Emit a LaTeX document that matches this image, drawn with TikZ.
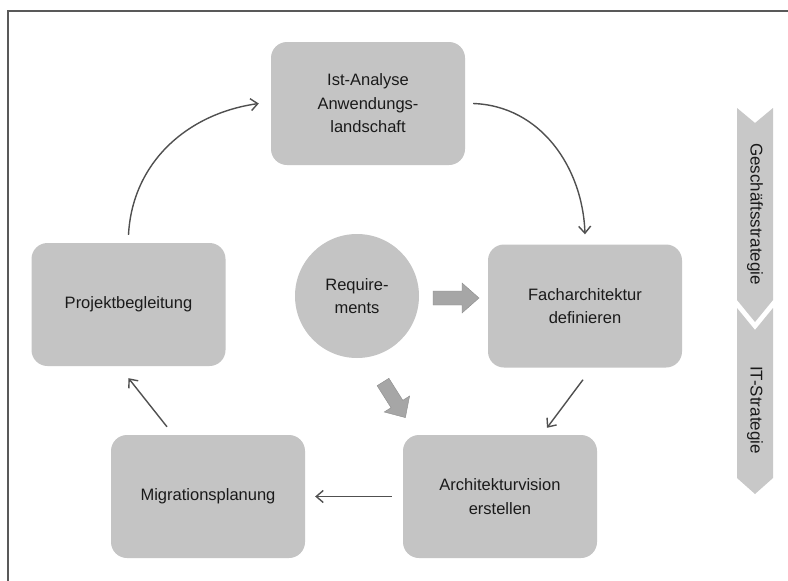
\documentclass[tikz,border=0pt]{standalone}
\usepackage{fontspec}
\setmainfont{Liberation Sans}
\usetikzlibrary{arrows.meta,calc}
\definecolor{boxgray}{HTML}{C4C4C4}
\definecolor{arrgray}{HTML}{A6A6A6}
\definecolor{stripgray}{HTML}{C8C8C8}
\definecolor{linegray}{HTML}{505050}
\definecolor{txt}{HTML}{1A1A1A}
\tikzset{
  stepbox/.style={draw=none, fill=boxgray, rounded corners=16pt, minimum width=194pt, minimum height=123pt, inner sep=0pt, align=center, text=txt, font=\fontsize{16.5}{23.5}\selectfont},
  conn/.style={draw=linegray, line width=1.4pt, -{Straight Barb[length=7pt,width=12pt,line width=1.4pt]}},
  blockarr/.style={fill=arrgray, draw=arrgray!85!black, line width=0.4pt},
}
\begin{document}
\begin{tikzpicture}[x=1pt,y=-1pt]
\useasboundingbox (0,0) rectangle (788,581);
\fill[white] (0,0) rectangle (788,581);
\draw[line width=1.2pt, black!65] (8,581) -- (8,11) -- (788,11);

\node[stepbox] (ia) at (368,103.5) {Ist-Analyse\\Anwendungs-\\landschaft};
\node[stepbox] (pb) at (128.5,304.5) {Projektbegleitung};
\node[stepbox] (fa) at (585,306) {Facharchitektur\\definieren};
\node[stepbox] (mig) at (208,496.5) {Migrationsplanung};
\node[stepbox] (av) at (500,496.5) {Architekturvision\\erstellen};
\node[circle, fill=boxgray, minimum size=124pt, inner sep=0pt, align=center, text=txt, font=\fontsize{16.5}{23.5}\selectfont] (req) at (357,296) {Require-\\ments};

% connectors
\draw[conn] ([yshift=8pt]pb.north) to[out=87,in=188] ([xshift=-12pt,yshift=0pt]ia.west);
\draw[conn] ([xshift=8pt]ia.east) to[out=-2,in=92] ([yshift=10pt]fa.north);
\draw[conn] ($(fa.south)+(-2,12)$) -- ($(av.north)+(47,-7)$);
\draw[conn] ([xshift=-11pt]av.west) -- ([xshift=10pt]mig.east);
\draw[conn] ($(mig.north)+(-41,-8)$) -- ($(pb.south)+(0,12)$);

% block arrows
\coordinate (ra) at (433,298);
\draw[blockarr] (ra) ++(0,-7) -- ++(29,0) -- ++(0,-8) -- ++(17,15) -- ++(-17,15) -- ++(0,-8) -- ++(-29,0) -- cycle;
\coordinate (da) at (383,382);
\draw[blockarr] (388.9,378.3) -- (402.8,400.3) -- (409.6,396.0) -- (405.4,417.6) -- (384.2,412.0) -- (391.0,407.7) -- (377.1,385.7) -- cycle;

% side strip
\fill[stripgray] (737,108) -- (755,123) -- (773,108) -- (773,300) -- (755,322) -- (737,300) -- cycle;
\fill[stripgray] (737,308) -- (755,330) -- (773,308) -- (773,478) -- (755,494) -- (737,478) -- cycle;
\node[rotate=-90, text=txt, font=\fontsize{17}{19}\selectfont] (gs) at (755,214) {Geschäftsstrategie};
\node[rotate=-90, text=txt, font=\fontsize{17}{19}\selectfont] (its) at (755,410) {IT-Strategie};
\end{tikzpicture}
\end{document}
